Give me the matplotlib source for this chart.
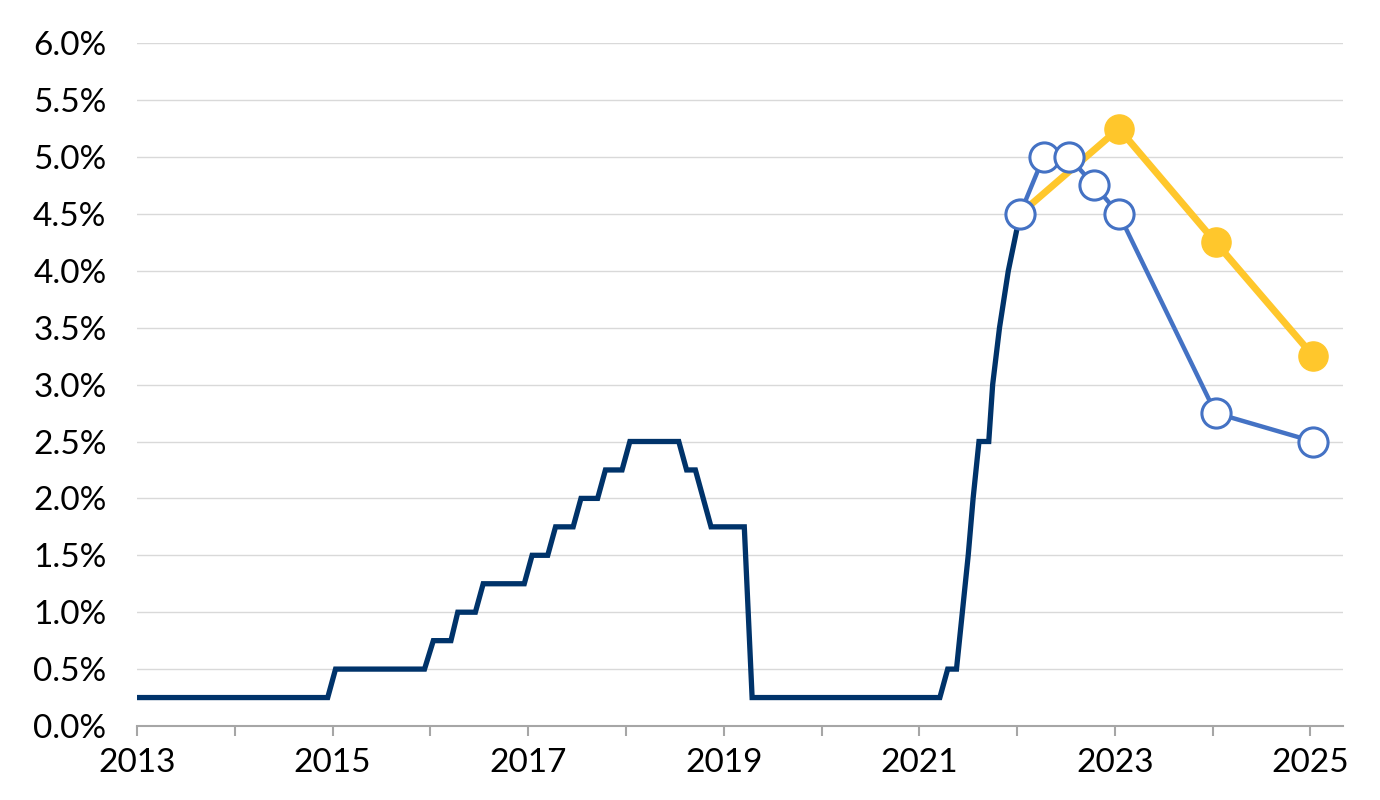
import matplotlib
matplotlib.use('Agg')
import matplotlib.pyplot as plt

# policy rate path (decimal years, %)
rate_x = [2013.0, 2014.95, 2015.03, 2015.94, 2016.03, 2016.21, 2016.28, 2016.46, 2016.54,
          2016.96, 2017.04, 2017.20, 2017.28, 2017.46, 2017.54, 2017.71, 2017.79, 2017.96,
          2018.04, 2018.54, 2018.62, 2018.71, 2018.87, 2019.21, 2019.29, 2021.21, 2021.29,
          2021.38, 2021.41, 2021.44, 2021.50, 2021.55, 2021.61, 2021.71, 2021.75, 2021.82,
          2021.91, 2022.03]
rate_y = [0.25, 0.25, 0.5, 0.5, 0.75, 0.75, 1.0, 1.0, 1.25,
          1.25, 1.5, 1.5, 1.75, 1.75, 2.0, 2.0, 2.25, 2.25,
          2.5, 2.5, 2.25, 2.25, 1.75, 1.75, 0.25, 0.25, 0.5,
          0.5, 0.75, 1.0, 1.5, 2.0, 2.5, 2.5, 3.0, 3.5,
          4.0, 4.5]

# projections
blue_x = [2022.03, 2022.27, 2022.53, 2022.79, 2023.04, 2024.03, 2025.03]
blue_y = [4.5, 5.0, 5.0, 4.75, 4.5, 2.75, 2.5]
gold_x = [2022.03, 2023.04, 2024.03, 2025.03]
gold_y = [4.5, 5.25, 4.25, 3.25]

year_ticks = list(range(2013, 2026))
year_labels = [str(y) if (y - 2013) % 2 == 0 else '' for y in year_ticks]
pct_ticks = [i * 0.5 for i in range(13)]

plt.rcParams['font.family'] = ['Lato', 'DejaVu Sans']

fig = plt.figure(figsize=(13.8, 8), dpi=100)
ax = fig.add_axes([0.0993, 0.0925, 0.8737, 0.8535])

ax.plot(rate_x, rate_y, color='#00336A', lw=3.8, solid_joinstyle='miter', zorder=3)
ax.plot(gold_x, gold_y, color='#FFC72C', lw=5, marker='o', ms=21,
        markerfacecolor='#FFC72C', markeredgecolor='#FFC72C', zorder=4)
ax.plot(blue_x, blue_y, color='#4472C4', lw=3.2, marker='o', ms=21,
        markerfacecolor='white', markeredgecolor='#4472C4', markeredgewidth=2.2, zorder=5)

ax.set_xlim(2013, 2025.33)
ax.set_ylim(0, 6)
ax.set_yticks(pct_ticks)
ax.set_yticklabels([f'{v:.1f}%' for v in pct_ticks])
ax.set_xticks(year_ticks)
ax.set_xticklabels(year_labels)

ax.grid(axis='y', color='#D9D9D9', lw=1)
ax.set_axisbelow(True)
for s in ['top', 'right', 'left']:
    ax.spines[s].set_visible(False)
ax.spines['bottom'].set_color('#A6A6A6')
ax.spines['bottom'].set_linewidth(1.5)
ax.spines['bottom'].set_zorder(6)

ax.tick_params(axis='y', length=0, pad=22, labelsize=24, labelcolor='black')
ax.tick_params(axis='x', length=7, width=1.5, color='#A6A6A6', pad=9, labelsize=24,
               labelcolor='black')

fig.savefig('out.png', dpi=100)
